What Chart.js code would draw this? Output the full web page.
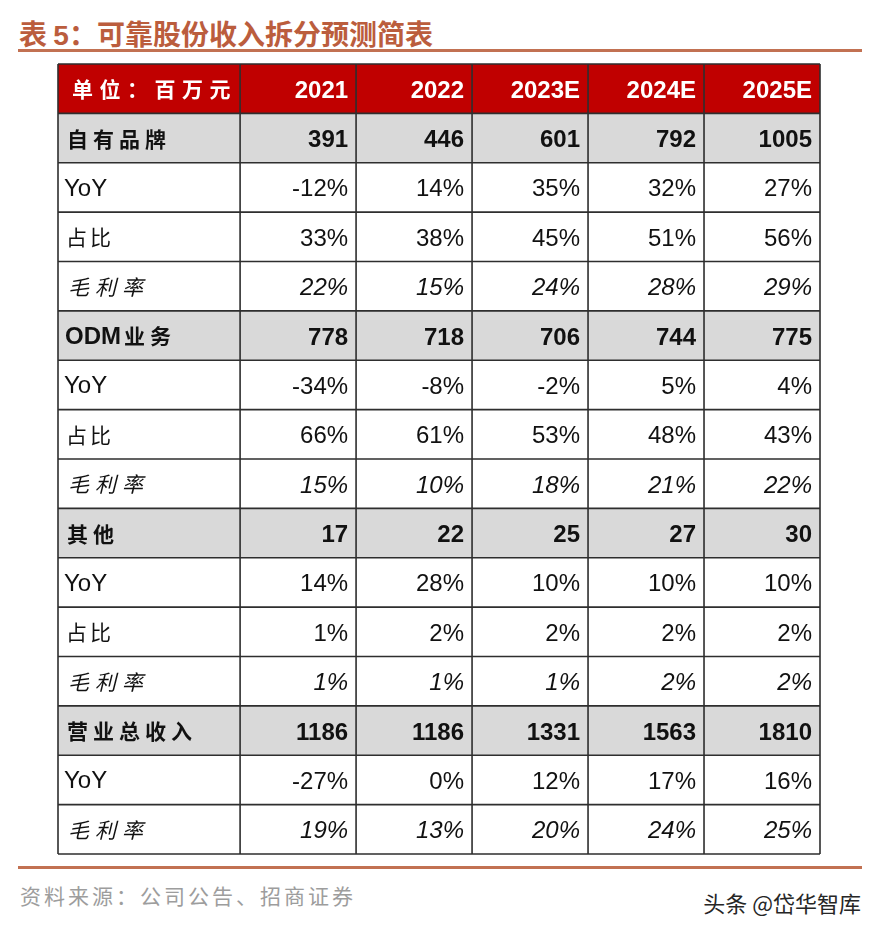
<!DOCTYPE html>
<html>
<head>
<meta charset="utf-8">
<script src="https://cdn.jsdelivr.net/npm/chart.js@4.4.1/dist/chart.umd.min.js"></script>
<style>
  html, body { margin: 0; padding: 0; background: #fff; }
  body { width: 880px; height: 934px; position: relative; overflow: hidden; }
  .title {
    position: absolute; left: 19px; top: 13px;
    font: bold 28px "Noto Sans CJK SC", sans-serif; letter-spacing: 0px;
    color: #bb5d3d; white-space: nowrap;
  }
  .title .num { font-family: "Liberation Sans", sans-serif; }
  .rule { position: absolute; left: 18px; width: 844px; height: 3px; background: #c27152; }
  .source {
    position: absolute; left: 20px; top: 880px;
    font: 21px "Noto Sans CJK SC", sans-serif; letter-spacing: 3px; color: #9d9d9d;
  }
  .mark {
    position: absolute; right: 19px; top: 886px;
    font: 22px "Noto Sans CJK SC", sans-serif; color: #262626;
  }
  #wrap { position: absolute; left: 56px; top: 62px; width: 766px; height: 794px; }
</style>
</head>
<body>
<div class="title">表 <span class="num">5</span>：可靠股份收入拆分预测简表</div>
<div class="rule" style="top:49px"></div>
<div id="wrap"><canvas id="tableChart"></canvas></div>
<div class="rule" style="top:866px"></div>
<div class="source">资料来源：公司公告、招商证券</div>
<div class="mark">头条 @岱华智库</div>

<script>
// ─── Data ──────────────────────────────────────────────────────────────────────
const unitLabel = '单位：百万元';
const years = ['2021', '2022', '2023E', '2024E', '2025E'];

const ownBrand       = [391, 446, 601, 792, 1005];
const ownBrandYoY    = [-12, 14, 35, 32, 27];
const ownBrandShare  = [33, 38, 45, 51, 56];
const ownBrandMargin = [22, 15, 24, 28, 29];

const odm       = [778, 718, 706, 744, 775];
const odmYoY    = [-34, -8, -2, 5, 4];
const odmShare  = [66, 61, 53, 48, 43];
const odmMargin = [15, 10, 18, 21, 22];

const other       = [17, 22, 25, 27, 30];
const otherYoY    = [14, 28, 10, 10, 10];
const otherShare  = [1, 2, 2, 2, 2];
const otherMargin = [1, 1, 1, 2, 2];

const total       = [1186, 1186, 1331, 1563, 1810];
const totalYoY    = [-27, 0, 12, 17, 16];
const totalMargin = [19, 13, 20, 24, 25];

// ─── Rows ──────────────────────────────────────────────────────────────────────
const pct = arr => arr.map(v => v + '%');
const num = arr => arr.map(v => String(v));

const rows = [
  { label: unitLabel,   kind: 'head',   cells: years },
  { label: '自有品牌',   kind: 'group',  cells: num(ownBrand) },
  { label: 'YoY',       kind: 'plain',  cells: pct(ownBrandYoY) },
  { label: '占比',       kind: 'plain',  cells: pct(ownBrandShare) },
  { label: '毛利率',     kind: 'margin', cells: pct(ownBrandMargin) },
  { label: 'ODM业务',    kind: 'group',  cells: num(odm) },
  { label: 'YoY',       kind: 'plain',  cells: pct(odmYoY) },
  { label: '占比',       kind: 'plain',  cells: pct(odmShare) },
  { label: '毛利率',     kind: 'margin', cells: pct(odmMargin) },
  { label: '其他',       kind: 'group',  cells: num(other) },
  { label: 'YoY',       kind: 'plain',  cells: pct(otherYoY) },
  { label: '占比',       kind: 'plain',  cells: pct(otherShare) },
  { label: '毛利率',     kind: 'margin', cells: pct(otherMargin) },
  { label: '营业总收入', kind: 'group',  cells: num(total) },
  { label: 'YoY',       kind: 'plain',  cells: pct(totalYoY) },
  { label: '毛利率',     kind: 'margin', cells: pct(totalMargin) }
];

// ─── Layout (x units: one year column = 1) ────────────────────────────────────
const LABEL_W = 1.57;
const TOTAL_W = LABEL_W + years.length;
const colEdges = [0, ...years.map((_, i) => LABEL_W + i), TOTAL_W];

const fills = { head: '#c00000', group: '#d9d9d9' };

const styles = {
  head:   { cjk: 'bold 21px "Noto Sans CJK SC"', spacing: 6.5, pad: 14, value: 'bold 24px "Liberation Sans"', color: '#ffffff' },
  group:  { cjk: 'bold 21px "Noto Sans CJK SC"', spacing: 5, pad: 9, value: 'bold 24px "Liberation Sans"', color: '#111111' },
  plain:  { cjk: '21px "Noto Sans CJK SC"', spacing: 3, pad: 8, value: '24px "Liberation Sans"', color: '#111111' },
  margin: { cjk: 'italic 21px "Noto Sans CJK SC"', spacing: 6, pad: 10, value: 'italic 24px "Liberation Sans"', color: '#111111' }
};

// latin prefix (ODM, YoY) is drawn in the value font, the rest in the CJK font
function drawLabel(ctx, text, st, x0, base) {
  const m = text.match(/^[A-Za-z]+/);
  let px = x0;
  if (m) {
    ctx.font = st.value;
    ctx.letterSpacing = '0px';
    ctx.fillText(m[0], px - 2, base);
    px += ctx.measureText(m[0]).width + 1;
    text = text.slice(m[0].length);
  }
  if (!text) return;
  ctx.font = st.cjk;
  ctx.letterSpacing = st.spacing + 'px';
  ctx.fillText(text, px, base);
}

// ─── Table plugin: grid + cell text ───────────────────────────────────────────
const tablePlugin = {
  id: 'tableCells',
  afterDatasetsDraw(chart) {
    const { ctx, scales: { x, y } } = chart;
    const band = y.getPixelForValue(1) - y.getPixelForValue(0);
    const top = y.getPixelForValue(0) - band / 2;
    const bottom = y.getPixelForValue(rows.length - 1) + band / 2;

    ctx.save();

    // grid lines
    ctx.strokeStyle = '#2e2e2e';
    ctx.lineWidth = 1.6;
    ctx.beginPath();
    for (let i = 0; i <= rows.length; i++) {
      const py = top + i * band;
      ctx.moveTo(x.getPixelForValue(0), py);
      ctx.lineTo(x.getPixelForValue(TOTAL_W), py);
    }
    colEdges.forEach(e => {
      const px = x.getPixelForValue(e);
      ctx.moveTo(px, top);
      ctx.lineTo(px, bottom);
    });
    ctx.stroke();

    // text
    rows.forEach((row, i) => {
      const st = styles[row.kind];
      const base = y.getPixelForValue(i) + 8.5;
      ctx.fillStyle = st.color;
      ctx.textBaseline = 'alphabetic';

      ctx.textAlign = 'left';
      drawLabel(ctx, row.label, st, x.getPixelForValue(0) + st.pad, base);

      ctx.font = st.value;
      ctx.letterSpacing = '0px';
      ctx.textAlign = 'right';
      row.cells.forEach((c, j) => {
        ctx.fillText(c, x.getPixelForValue(colEdges[j + 2]) - 8, base + 0.5);
      });
    });

    ctx.restore();
  }
};

// ─── Chart ─────────────────────────────────────────────────────────────────────
new Chart(document.getElementById('tableChart'), {
  type: 'bar',
  data: {
    labels: rows.map(r => r.label),
    datasets: [{
      data: rows.map(r => fills[r.kind] ? [0, TOTAL_W] : null),
      backgroundColor: rows.map(r => fills[r.kind] || 'transparent'),
      borderWidth: 0,
      barPercentage: 1,
      categoryPercentage: 1
    }]
  },
  options: {
    indexAxis: 'y',
    responsive: true,
    maintainAspectRatio: false,
    animation: false,
    layout: { padding: 2 },
    plugins: { legend: { display: false }, tooltip: { enabled: false } },
    scales: {
      x: { type: 'linear', min: 0, max: TOTAL_W, display: false },
      y: { type: 'category', offset: true, display: false }
    }
  },
  plugins: [tablePlugin]
});
</script>
</body>
</html>
